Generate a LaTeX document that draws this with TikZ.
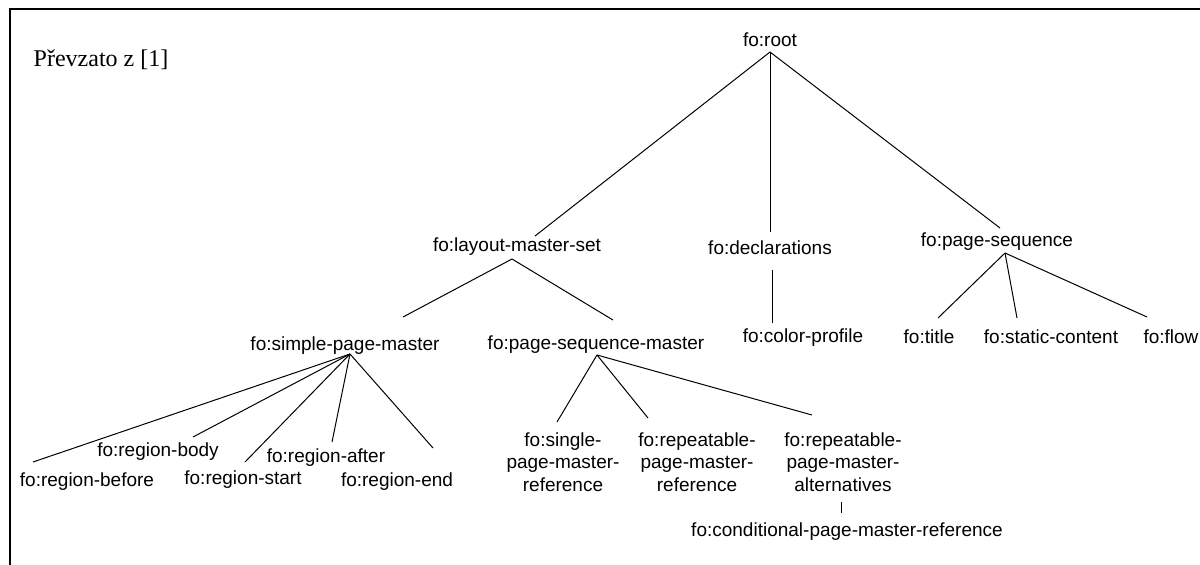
\documentclass[tikz,border=0pt]{standalone}
\usepackage{fontspec}
\setmainfont{Liberation Sans}
\newfontfamily\serifnote{Liberation Serif}
\begin{document}
\begin{tikzpicture}[x=1pt,y=-1pt,
  lbl/.style={inner sep=0pt, font=\fontsize{19}{22.5}\selectfont, align=center},
  edge/.style={line width=1pt, black},
  frame/.style={line width=1.4pt, black}]
\useasboundingbox (0,0) rectangle (1200,565);
% frame
\coordinate (fl) at (10,565);
\coordinate (fc) at (10,9);
\coordinate (fr) at (1200,9);
\draw[frame] (fl) -- (fc) -- (fr);
% note
\node[inner sep=0pt, font=\serifnote\fontsize{24}{28}\selectfont] (note) at (101,60) {Převzato z [1]};
% nodes
\node[lbl] (root) at (770,40) {fo:root};
\node[lbl] (lms) at (517,247) {fo:layout-master-set};
\node[lbl] (decl) at (770,248) {fo:declarations};
\node[lbl] (ps) at (997,242) {fo:page-sequence};
\node[lbl] (spm) at (345,346) {fo:simple-page-master};
\node[lbl] (psm) at (596,345) {fo:page-sequence-master};
\node[lbl] (col) at (803,338) {fo:color-profile};
\node[lbl] (title) at (929,337) {fo:title};
\node[lbl] (static) at (1051,337) {fo:static-content};
\node[lbl] (flow) at (1171,337) {fo:flow};
\node[lbl] (rbefore) at (87,482) {fo:region-before};
\node[lbl] (rbody) at (158,452) {fo:region-body};
\node[lbl] (rstart) at (243,480) {fo:region-start};
\node[lbl] (rafter) at (326,458) {fo:region-after};
\node[lbl] (rend) at (397,482) {fo:region-end};
\node[lbl] (spmr) at (563,462) {fo:single-\\page-master-\\reference};
\node[lbl] (rpmr) at (697,462) {fo:repeatable-\\page-master-\\reference};
\node[lbl] (rpma) at (843,462) {fo:repeatable-\\page-master-\\alternatives};
\node[lbl] (cond) at (847,532) {fo:conditional-page-master-reference};
% connector end points
\coordinate (root-a) at (770,52);
\coordinate (lms-t) at (535,236);
\coordinate (lms-a) at (512,259);
\coordinate (decl-t) at (770,232);
\coordinate (decl-a) at (772,270);
\coordinate (ps-t) at (1000,228);
\coordinate (ps-a) at (1005,253);
\coordinate (spm-t) at (403,317);
\coordinate (spm-a) at (350,354);
\coordinate (psm-t) at (613,320);
\coordinate (psm-a) at (597,355);
\coordinate (col-t) at (772,323);
\coordinate (title-t) at (938,318);
\coordinate (static-t) at (1017,318);
\coordinate (flow-t) at (1147,317);
\coordinate (rbefore-t) at (33,462);
\coordinate (rbody-t) at (193,437);
\coordinate (rstart-t) at (245,462);
\coordinate (rafter-t) at (332,442);
\coordinate (rend-t) at (433,448);
\coordinate (spmr-t) at (557,422);
\coordinate (rpmr-t) at (648,418);
\coordinate (rpma-t) at (812,415);
\coordinate (rpma-a) at (841,502);
\coordinate (cond-t) at (841,513);
% connectors
\draw[edge] (root-a) -- (lms-t);
\draw[edge] (root-a) -- (decl-t);
\draw[edge] (root-a) -- (ps-t);
\draw[edge] (lms-a) -- (spm-t);
\draw[edge] (lms-a) -- (psm-t);
\draw[edge] (decl-a) -- (col-t);
\draw[edge] (ps-a) -- (title-t);
\draw[edge] (ps-a) -- (static-t);
\draw[edge] (ps-a) -- (flow-t);
\draw[edge] (spm-a) -- (rbefore-t);
\draw[edge] (spm-a) -- (rbody-t);
\draw[edge] (spm-a) -- (rstart-t);
\draw[edge] (spm-a) -- (rafter-t);
\draw[edge] (spm-a) -- (rend-t);
\draw[edge] (psm-a) -- (spmr-t);
\draw[edge] (psm-a) -- (rpmr-t);
\draw[edge] (psm-a) -- (rpma-t);
\draw[edge] (rpma-a) -- (cond-t);
\end{tikzpicture}
\end{document}
